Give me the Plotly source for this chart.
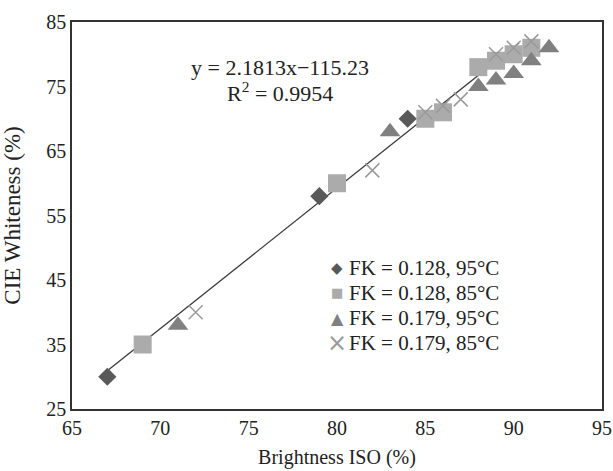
import plotly.graph_objects as go

# Data
d1_x = [67, 79, 84]            # FK = 0.128, 95°C
d1_y = [30, 58, 70]
s1_x = [69, 80, 85, 86, 88, 89, 90, 91]   # FK = 0.128, 85°C
s1_y = [35, 60, 70, 71, 78, 79, 80, 81]
t1_x = [71, 83, 88, 89, 90, 91, 92]       # FK = 0.179, 95°C
t1_y = [38, 68, 75, 76, 77, 79, 81]
x1_x = [72, 82, 85, 86, 87, 89, 90, 91]   # FK = 0.179, 85°C
x1_y = [40, 62, 71, 72, 73, 80, 81, 82]

slope, intercept = 2.1813, -115.23
trend_x = [67, 90.3]
trend_y = [slope * v + intercept for v in trend_x]

names = ["FK = 0.128, 95°C", "FK = 0.128, 85°C", "FK = 0.179, 95°C", "FK = 0.179, 85°C"]
legend_symbols = ["\u25C6", "\u25A0", "\u25B2", "\u00D7"]

FONT = "Liberation Serif, Times New Roman, serif"
TXT = "#222"
C_DIAM, C_SQ, C_TRI, C_X = "#595959", "#ababab", "#808080", "#9a9a9a"
colors = [C_DIAM, C_SQ, C_TRI, C_X]

fig = go.Figure()
fig.add_trace(go.Scatter(x=trend_x, y=trend_y, mode="lines",
                         line=dict(color="#3a3a3a", width=1.3), showlegend=False))
fig.add_trace(go.Scatter(x=s1_x, y=s1_y, mode="markers", name=names[1], showlegend=False,
                         marker=dict(symbol="square", size=18, color=C_SQ)))
fig.add_trace(go.Scatter(x=d1_x, y=d1_y, mode="markers", name=names[0], showlegend=False,
                         marker=dict(symbol="diamond", size=14, color=C_DIAM)))
fig.add_trace(go.Scatter(x=t1_x, y=t1_y, mode="markers", name=names[2], showlegend=False,
                         marker=dict(symbol="triangle-up", size=18, color=C_TRI)))
fig.add_trace(go.Scatter(x=x1_x, y=x1_y, mode="markers", name=names[3], showlegend=False,
                         marker=dict(symbol="x-thin-open", size=14,
                                     line=dict(color=C_X, width=1.5), color=C_X)))

# regression equation
fig.add_annotation(x=76.8, y=77.9, xref="x", yref="y", showarrow=False,
                   text="y = 2.1813x\u2212115.23", font=dict(family=FONT, size=22, color=TXT))
fig.add_annotation(x=76.8, y=74.2, xref="x", yref="y", showarrow=False,
                   text="R<sup>2</sup> = 0.9954", font=dict(family=FONT, size=22, color=TXT))

# legend (symbol + label rows)
row_y = [0.364, 0.300, 0.235, 0.170]
sym_sizes = [15, 13, 16, 24]
for name, sym, col, ry, ss in zip(names, legend_symbols, colors, row_y, sym_sizes):
    fig.add_annotation(x=0.5, y=ry, xref="paper", yref="paper", showarrow=False,
                       xanchor="center", yanchor="middle", text=sym,
                       font=dict(family="DejaVu Sans", size=ss, color=col))
    fig.add_annotation(x=0.519, y=ry, xref="paper", yref="paper", showarrow=False,
                       xanchor="left", yanchor="middle", text=name,
                       font=dict(family=FONT, size=21, color=TXT))

axis_common = dict(showgrid=False, zeroline=False, showline=True, mirror=True,
                   linecolor="#333", linewidth=1.5, ticks="", automargin=False,
                   tickfont=dict(family=FONT, size=20, color=TXT))

fig.update_layout(
    width=613, height=471,
    margin=dict(l=72, r=11, t=22, b=62),
    paper_bgcolor="white", plot_bgcolor="white",
    font=dict(family=FONT, size=19, color=TXT),
    showlegend=False,
    xaxis=dict(range=[65, 95], dtick=5, tick0=65,
               title=dict(text="Brightness ISO (%)", font=dict(family=FONT, size=20, color=TXT), standoff=12),
               **axis_common),
    yaxis=dict(range=[25, 85], dtick=10, tick0=25,
               title=dict(text="CIE Whiteness (%)", font=dict(family=FONT, size=23, color=TXT), standoff=22),
               **axis_common),
)

fig.write_html("out.html", config={"displayModeBar": False},
               post_script="document.body.style.margin='0';document.body.style.overflow='hidden';")
